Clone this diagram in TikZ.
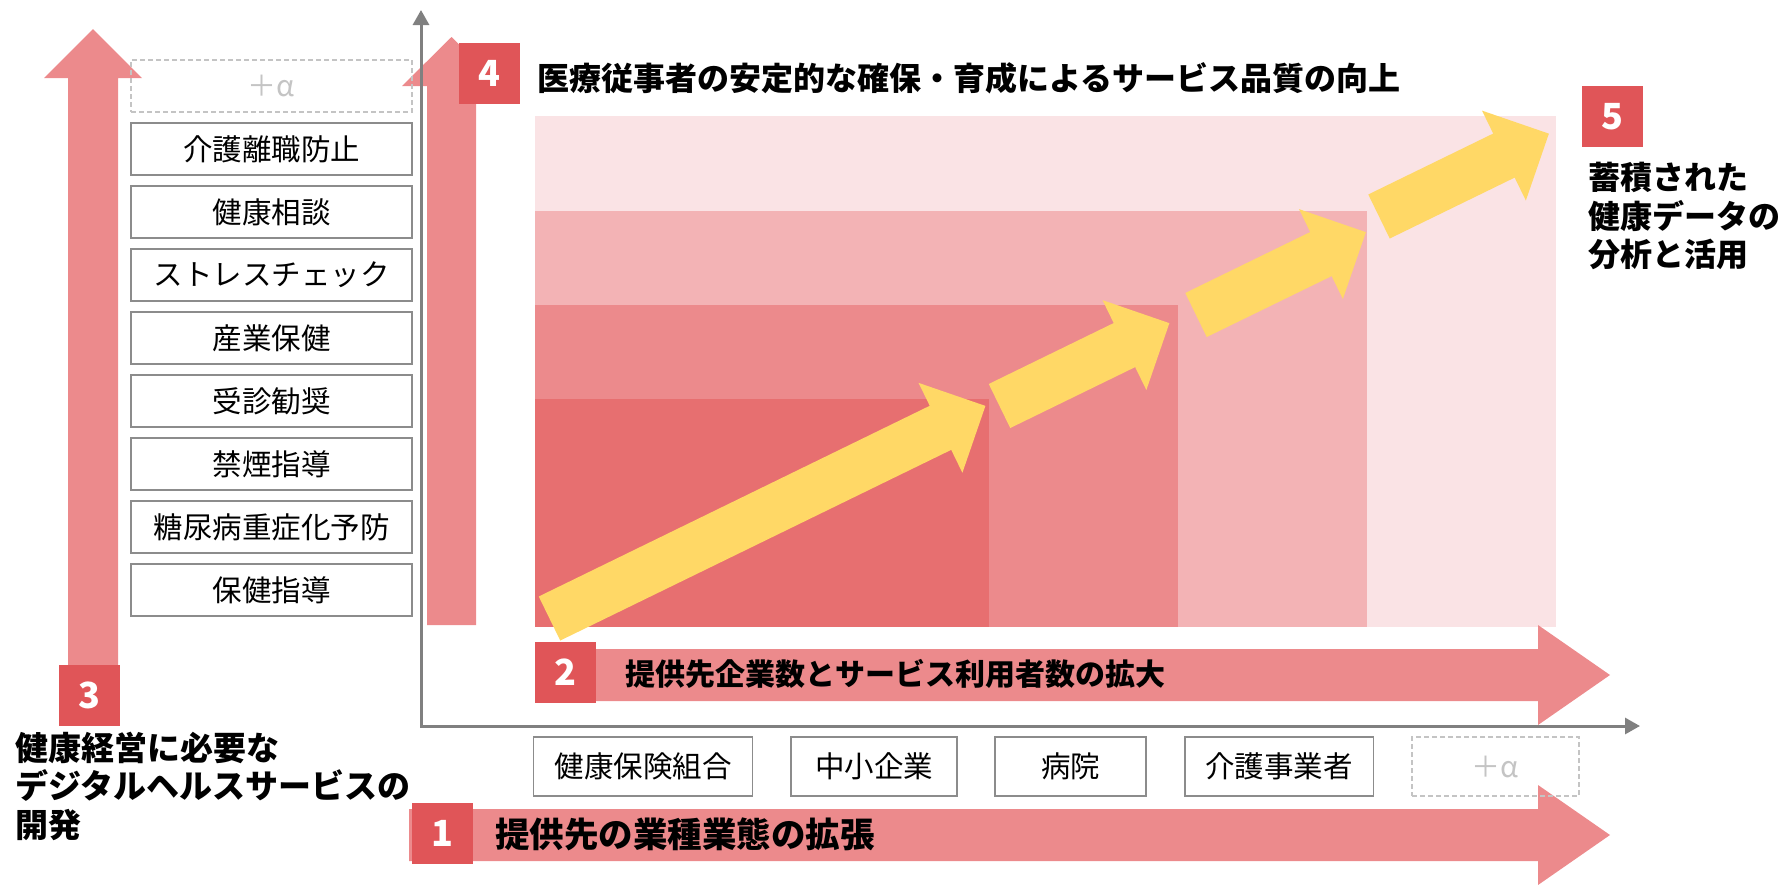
\documentclass[tikz,border=0pt]{standalone}
\usepackage{fontspec}
\newfontfamily\jp{Noto Sans CJK JP}
\usetikzlibrary{arrows.meta}
\definecolor{pinkA}{HTML}{EC8A8C}
\definecolor{badge}{HTML}{E05558}
\definecolor{yel}{HTML}{FFD866}
\definecolor{lvA}{HTML}{E76F70}
\definecolor{lvB}{HTML}{EC8A8C}
\definecolor{lvC}{HTML}{F3B3B5}
\definecolor{lvD}{HTML}{FAE3E5}
\definecolor{axisgray}{HTML}{808080}
\definecolor{boxgray}{HTML}{8C8C8C}
\definecolor{dashgray}{HTML}{C4C4C4}
\newcommand\yarrow[2]{\fill[yel, shift={#1}, rotate=26] (0,-24.5) -- ({#2-50},-24.5) -- ({#2-50},-50) -- (#2,0) -- ({#2-50},50) -- ({#2-50},24.5) -- (0,24.5) -- cycle;}
\begin{document}
\begin{tikzpicture}[x=1pt,y=-1pt,
  every node/.style={font=\jp},
  itembox/.style={draw=boxgray, line width=1.5pt, fill=white, inner sep=0pt, font=\jp\fontsize{29.5}{34}\selectfont},
  plusbox/.style={draw=dashgray, dash pattern=on 5pt off 3pt, line width=1.5pt, inner sep=0pt, text=dashgray, font=\jp\fontsize{29}{34}\selectfont},
  badgebox/.style={fill=badge, text=white, minimum width=61pt, minimum height=61pt, inner sep=0pt, font=\jp\bfseries\fontsize{36}{36}\selectfont},
  bigtext/.style={font=\jp\bfseries\fontsize{32}{38.5}\selectfont, align=left, inner sep=0pt, anchor=west},
  axisline/.style={draw=axisgray, line width=3pt, {Triangle[length=15pt,width=16pt]}-{Triangle[length=15pt,width=16pt]}},
]
\useasboundingbox (0,0) rectangle (1783,884);
% stepped background
\fill[lvD] (535,116) rectangle (1556,627);
\fill[lvC] (535,211) rectangle (1367,627);
\fill[lvB] (535,305) rectangle (1178,627);
\fill[lvA] (535,399) rectangle (989,627);
% yellow arrows
\coordinate (ya) at (549.5,618.5);
\coordinate (yb) at (999.5,406);
\coordinate (yc) at (1196,315);
\coordinate (yd) at (1379,216.5);
\yarrow{(ya)}{485}
\yarrow{(yb)}{189}
\yarrow{(yc)}{189}
\yarrow{(yd)}{189}
% vertical pink arrows
\fill[pinkA] (68,700) -- (68,78) -- (44,78) -- (93,29) -- (142,78) -- (118,78) -- (118,700) -- cycle;
\fill[pinkA] (427,625) -- (427,86) -- (402,86) -- (451.5,37) -- (501,86) -- (476,86) -- (476,625) -- cycle;
% axes
\coordinate (yt) at (421,10);
\coordinate (org) at (421,726);
\coordinate (xe) at (1640,726);
\draw[axisline] (yt) -- (org) -- (xe);
% horizontal pink arrows
\fill[pinkA] (535,649) -- (1538,649) -- (1538,625) -- (1610,675) -- (1538,725) -- (1538,701) -- (535,701) -- cycle;
\fill[pinkA] (409,809) -- (1538,809) -- (1538,785) -- (1610,835) -- (1538,885) -- (1538,861) -- (409,861) -- cycle;
% left list
\node[plusbox, minimum width=281pt, minimum height=52pt] (lp) at (271.5,86) {＋α};
\node[itembox, minimum width=281pt, minimum height=52pt] (l1) at (271.5,149) {介護離職防止};
\node[itembox, minimum width=281pt, minimum height=52pt] (l2) at (271.5,212) {健康相談};
\node[itembox, minimum width=281pt, minimum height=52pt] (l3) at (271.5,275) {ストレスチェック};
\node[itembox, minimum width=281pt, minimum height=52pt] (l4) at (271.5,338) {産業保健};
\node[itembox, minimum width=281pt, minimum height=52pt] (l5) at (271.5,401) {受診勧奨};
\node[itembox, minimum width=281pt, minimum height=52pt] (l6) at (271.5,464) {禁煙指導};
\node[itembox, minimum width=281pt, minimum height=52pt] (l7) at (271.5,527) {糖尿病重症化予防};
\node[itembox, minimum width=281pt, minimum height=52pt] (l8) at (271.5,590) {保健指導};
% bottom list
\node[itembox, minimum width=219pt, minimum height=59pt] (c1) at (643,766.5) {健康保険組合};
\node[itembox, minimum width=166pt, minimum height=59pt] (c2) at (874,766.5) {中小企業};
\node[itembox, minimum width=151pt, minimum height=59pt] (c3) at (1070.5,766.5) {病院};
\node[itembox, minimum width=188.5pt, minimum height=59pt] (c4) at (1279,766.5) {介護事業者};
\node[plusbox, minimum width=167pt, minimum height=59pt] (cp) at (1495.5,766.5) {＋α};
% badges
\node[badgebox] (n1) at (442.5,833) {1};
\node[badgebox] (n2) at (565.5,672.5) {2};
\node[badgebox] (n3) at (89,695.5) {3};
\node[badgebox] (n4) at (489.5,73.5) {4};
\node[badgebox] (n5) at (1612.5,116.5) {5};
% labels
\node[bigtext, font=\jp\bfseries\fontsize{34.5}{38}\selectfont] (t1) at (495,834) {提供先の業種業態の拡張};
\node[bigtext, font=\jp\bfseries\fontsize{30}{36}\selectfont] (t2) at (625,674) {提供先企業数とサービス利用者数の拡大};
\node[bigtext, font=\jp\bfseries\fontsize{33}{38.5}\selectfont] (t3) at (15,786) {健康経営に必要な\\デジタルヘルスサービスの\\開発};
\node[bigtext] (t4) at (537,78) {医療従事者の安定的な確保・育成によるサービス品質の向上};
\node[bigtext] (t5) at (1588,216) {蓄積された\\健康データの\\分析と活用};
\end{tikzpicture}
\end{document}
